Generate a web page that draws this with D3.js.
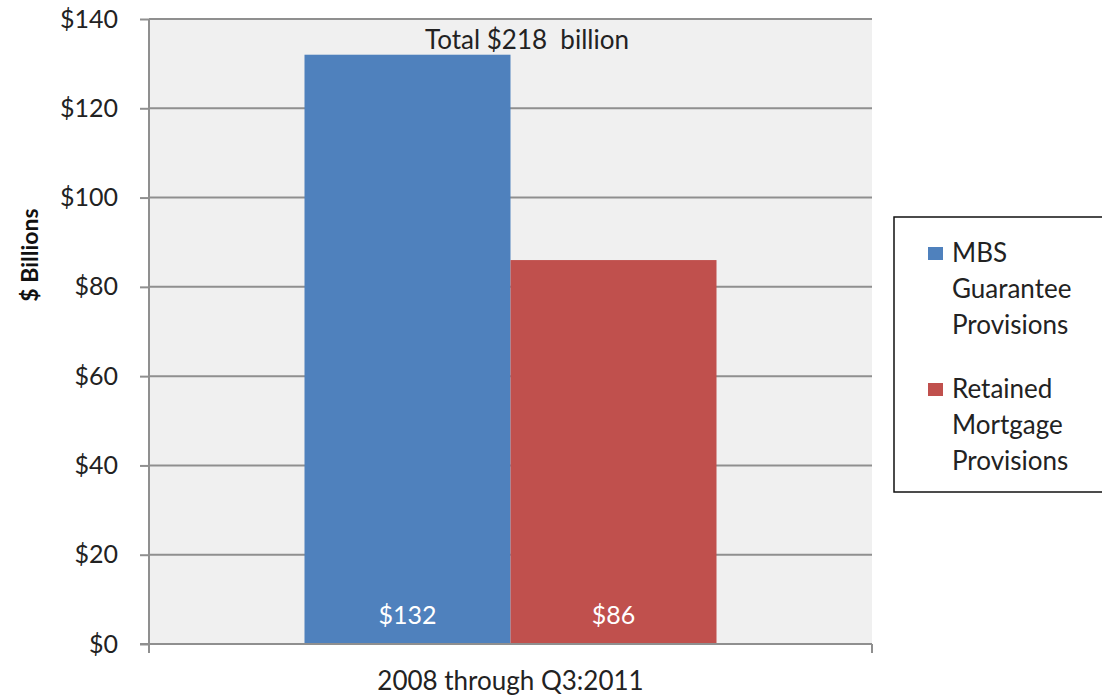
<!DOCTYPE html>
<html>
<head>
<meta charset="utf-8">
<script src="https://cdn.jsdelivr.net/npm/d3@7"></script>
<style>
	body { margin: 0; background: #fff; }
	svg text { font-family: Lato, "Open Sans", sans-serif; }
</style>
</head>
<body>
<script>
	// chart data
	var categories = ["2008 through Q3:2011"];
	var seriesNames = ["MBS Guarantee Provisions", "Retained Mortgage Provisions"];
	var legendLines = [["MBS", "Guarantee", "Provisions"], ["Retained", "Mortgage", "Provisions"]];
	var seriesValues = [132, 86];
	var barLabels = ["$132", "$86"];
	var yTicks = [0, 20, 40, 60, 80, 100, 120, 140];
	var totalLabel = "Total $218  billion";
	var colors = ["#4f81bd", "#c0504d"];

	var width = 1102, height = 696;
	var plotLeft = 149, plotRight = 872, plotTop = 19, plotBottom = 644;

	var svg = d3.select("body").append("svg")
		.attr("width", width)
		.attr("height", height);

	// plot background
	svg.append("rect")
		.attr("x", plotLeft).attr("y", plotTop)
		.attr("width", plotRight - plotLeft).attr("height", plotBottom - plotTop)
		.style("fill", "#f0f0f0");

	var y = d3.scaleLinear().domain([0, 140]).range([plotBottom, plotTop]);
	var x0 = d3.scaleBand().domain(categories).range([plotLeft, plotRight]).padding(0.274);
	var x1 = d3.scaleBand().domain(seriesNames).range([0, x0.bandwidth()]).padding(0);

	// gridlines
	svg.append("g").selectAll("line")
		.data(yTicks.filter(function(d) { return d > 0; }))
		.enter().append("line")
		.attr("x1", plotLeft).attr("x2", plotRight)
		.attr("y1", function(d) { return y(d); })
		.attr("y2", function(d) { return y(d); })
		.style("stroke", "#8f8f8f")
		.style("stroke-width", 2);

	// bars
	svg.append("g").selectAll("rect")
		.data(seriesValues)
		.enter().append("rect")
		.attr("x", function(d, i) { return x0(categories[0]) + x1(seriesNames[i]); })
		.attr("y", function(d) { return y(d); })
		.attr("width", x1.bandwidth())
		.attr("height", function(d) { return y(0) - y(d); })
		.style("fill", function(d, i) { return colors[i]; });

	// bar value labels
	svg.append("g").selectAll("text")
		.data(barLabels)
		.enter().append("text")
		.attr("x", function(d, i) { return x0(categories[0]) + x1(seriesNames[i]) + x1.bandwidth() / 2; })
		.attr("y", plotBottom - 20)
		.attr("text-anchor", "middle")
		.style("font-size", "25px")
		.style("fill", "#fff")
		.text(function(d) { return d; });

	// total label
	svg.append("text")
		.attr("x", 425)
		.attr("y", 49)
		.style("font-size", "26px")
		.style("fill", "#222")
		.style("white-space", "pre")
		.text(totalLabel);

	// y axis
	var yAxis = d3.axisLeft(y).tickValues(yTicks).tickSize(9).tickFormat(function(d) { return "$" + d; });
	var gy = svg.append("g")
		.attr("transform", "translate(" + plotLeft + ",0)")
		.call(yAxis);
	gy.select(".domain").remove();
	gy.selectAll(".tick line").style("stroke", "#8f8f8f").style("stroke-width", 2);
	gy.selectAll(".tick text")
		.attr("x", -31)
		.style("font-size", "25px")
		.style("fill", "#222");
	svg.append("line")
		.attr("x1", plotLeft).attr("x2", plotLeft)
		.attr("y1", plotTop).attr("y2", plotBottom + 9)
		.style("stroke", "#8f8f8f").style("stroke-width", 2);

	// x axis
	svg.append("line")
		.attr("x1", plotLeft - 9).attr("x2", plotRight)
		.attr("y1", plotBottom).attr("y2", plotBottom)
		.style("stroke", "#8f8f8f").style("stroke-width", 2);
	svg.append("line")
		.attr("x1", plotRight).attr("x2", plotRight)
		.attr("y1", plotBottom).attr("y2", plotBottom + 9)
		.style("stroke", "#8f8f8f").style("stroke-width", 2);
	svg.append("text")
		.attr("x", x0(categories[0]) + x0.bandwidth() / 2)
		.attr("y", 690)
		.attr("text-anchor", "middle")
		.style("font-size", "26px")
		.style("fill", "#222")
		.text(categories[0]);

	// y axis title
	svg.append("text")
		.attr("transform", "translate(38,255) rotate(-90)")
		.attr("text-anchor", "middle")
		.style("font-size", "23px")
		.style("font-weight", "bold")
		.style("fill", "#111")
		.text("$ Billions");

	// legend
	var legend = svg.append("g");
	legend.append("rect")
		.attr("x", 894).attr("y", 217)
		.attr("width", 220).attr("height", 275)
		.style("fill", "#fff")
		.style("stroke", "#111")
		.style("stroke-width", 1.5);

	var item = legend.selectAll("g.item")
		.data(seriesNames)
		.enter().append("g")
		.attr("class", "item")
		.attr("transform", function(d, i) { return "translate(0," + (i * 136) + ")"; });
	item.append("rect")
		.attr("x", 928).attr("y", 247)
		.attr("width", 15).attr("height", 13)
		.style("fill", function(d, i) { return colors[i]; });
	item.selectAll("text")
		.data(function(d, i) { return legendLines[i]; })
		.enter().append("text")
		.attr("x", 952)
		.attr("y", function(d, j) { return 262 + j * 36; })
		.style("font-size", "26px")
		.style("fill", "#222")
		.text(function(d) { return d; });
</script>
</body>
</html>
